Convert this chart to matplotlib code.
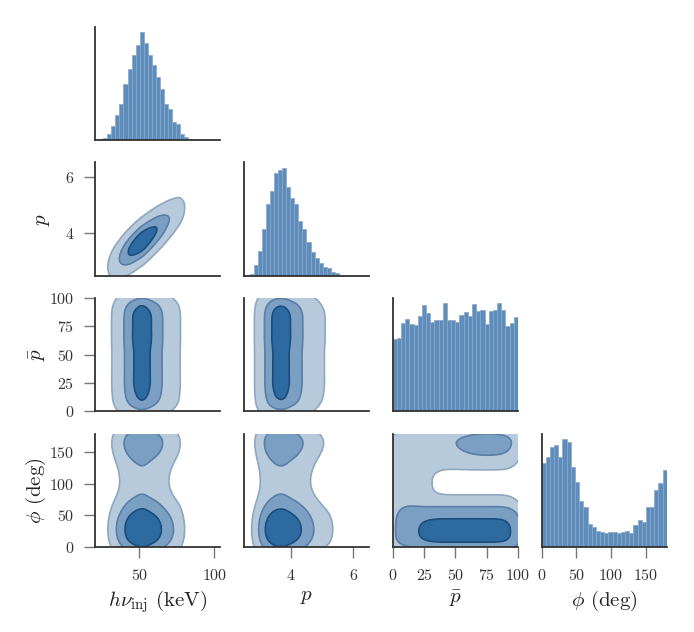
import numpy as np
import matplotlib.pyplot as plt

plt.rcParams['font.family'] = 'serif'
plt.rcParams['font.serif'] = ['cmr10']
plt.rcParams['mathtext.fontset'] = 'cm'
plt.rcParams['axes.formatter.use_mathtext'] = True

# ---- values ----
labels = [r'$h\nu_{\rm inj}$ (keV)', r'$p$', r'$\bar{p}$', r'$\phi$ (deg)']
axis_limits = [(20.3, 104.0), (2.5, 6.5), (0.0, 100.0), (0.0, 180.0)]
axis_ticks = [[50, 100], [4, 6], [0, 25, 50, 75, 100], [0, 50, 100, 150]]

# histogram ranges (30 bins each) and bar heights
hist_ranges = [(20.3, 101.8), (2.56, 6.44), (0.0, 100.0), (0.0, 180.0)]
hnu_counts = [2, 4, 6, 18, 43, 75, 108, 168, 213, 255, 283, 321, 290, 253, 223,
              190, 153, 108, 93, 55, 50, 20, 10, 3, 1, 1, 1, 0, 0, 1]
p_counts = [3, 6, 33, 73, 140, 213, 253, 306, 313, 320, 263, 230, 213, 163, 138,
            101, 70, 53, 38, 28, 25, 13, 8, 3, 2, 1, 1, 0.5, 0.5, 0.3]
pbar_counts = [212, 215, 260, 273, 257, 255, 282, 312, 290, 262, 270, 268, 318, 268, 270,
               262, 285, 293, 280, 315, 295, 299, 258, 295, 300, 318, 300, 252, 260, 277]
phi_counts = [249, 265, 296, 302, 267, 319, 309, 237, 192, 137, 119, 67, 59, 47, 44,
              42, 43, 44, 42, 45, 47, 42, 64, 80, 74, 119, 119, 167, 189, 227]

# p follows hnu: centre of the p ridge for every hnu bin, and scatter around it
p_ridge = [2.45, 2.55, 2.66, 2.78, 2.90, 3.02, 3.13, 3.25, 3.36, 3.48,
           3.60, 3.71, 3.83, 3.95, 4.07, 4.19, 4.31, 4.43, 4.55, 4.67,
           4.79, 4.91, 5.03, 5.15, 5.27, 5.39, 5.51, 5.63, 5.75, 5.87]
p_scatter = 0.32

# pbar-phi joint: rows = phi bins of 15 deg, columns = pbar bins of 10
pbar_phi_table = [
    [15, 19, 28, 30, 30, 30, 30, 30, 30, 28],
    [15, 19, 30, 32, 32, 32, 32, 32, 32, 30],
    [15, 19, 29, 31, 31, 31, 31, 31, 31, 29],
    [14, 16, 18, 19, 19, 19, 19, 19, 19, 18],
    [9, 8, 6, 6, 6, 6, 6, 6, 6, 6],
    [8, 7, 4, 2, 2, 2, 2, 2, 2, 2],
    [8, 7, 4, 1.5, 1.2, 1.2, 1.2, 1.2, 1.2, 1.2],
    [8, 7, 4, 1.5, 1.2, 1.2, 1.2, 1.2, 1.2, 1.2],
    [8, 7, 5, 3, 3, 3, 3, 3, 3, 3],
    [8, 8, 7, 6, 6, 7, 8, 8, 8, 7],
    [8, 8, 7, 7, 8, 11, 15, 17, 16, 11],
    [8, 8, 7, 7, 9, 13, 18, 21, 19, 13],
]

mass_levels = [0.95, 0.68, 0.32]   # probability mass inside each contour
bandwidths = [2.2, 0.13, 7.0, 15.0]
table_bw = [7.0, 10.0]

hist_face = '#5f8dbb'
hist_edge = '#86a7c9'
fill_colors = ['#b7cadc', '#7b9fc3', '#2c6aa0']
line_colors = ['#8fa8bf', '#5a7ea5', '#1d4d7c']
ylabel_pads = [0, 9, 1, 1]


def bin_centers(lo, hi, n):
    e = np.linspace(lo, hi, n + 1)
    return 0.5 * (e[1:] + e[:-1]), e


def gauss(grid, c, bw):
    return np.exp(-0.5 * ((grid[:, None] - np.asarray(c)[None, :]) / bw) ** 2)


counts = [np.array(c, float) for c in (hnu_counts, p_counts, pbar_counts, phi_counts)]
grids, marg = [], []
for k in range(4):
    lo, hi = hist_ranges[k]
    g = np.linspace(lo - 4 * bandwidths[k], hi + 4 * bandwidths[k], 300)
    c, _ = bin_centers(lo, hi, len(counts[k]))
    grids.append(g)
    marg.append(gauss(g, c, bandwidths[k]) @ counts[k])


def joint(i, j):
    # density with variable i on y and variable j on x
    if (i, j) == (1, 0):
        c, _ = bin_centers(*hist_ranges[0], len(hnu_counts))
        kx = gauss(grids[0], c, bandwidths[0])
        s = np.hypot(p_scatter, bandwidths[1])
        ky = gauss(grids[1], p_ridge, s)
        return (ky * counts[0]) @ kx.T
    if (i, j) == (3, 2):
        t = np.array(pbar_phi_table, float)
        cx, _ = bin_centers(0, 100, t.shape[1])
        cy, _ = bin_centers(0, 180, t.shape[0])
        kx = gauss(grids[2], cx, table_bw[0])
        ky = gauss(grids[3], cy, table_bw[1])
        return ky @ t @ kx.T
    return np.outer(marg[i], marg[j])


def thresholds(z, masses):
    v = np.sort(z.ravel())[::-1]
    cum = np.cumsum(v) / v.sum()
    return [v[min(np.searchsorted(cum, m), len(v) - 1)] for m in masses]


fig = plt.figure(figsize=(6.94, 6.32), dpi=100)
axes = fig.subplots(4, 4)
fig.subplots_adjust(left=0.137, right=0.9607, bottom=0.1345, top=0.9573,
                    wspace=0.19, hspace=0.194)

for i in range(4):
    for j in range(4):
        ax = axes[i, j]
        if j > i:
            ax.remove()
            continue
        if i == j:
            lo, hi = hist_ranges[i]
            _, edges = bin_centers(lo, hi, len(counts[i]))
            ax.bar(edges[:-1], counts[i], width=np.diff(edges), align='edge',
                   color=hist_face, edgecolor=hist_edge, linewidth=0.5)
        else:
            z = joint(i, j)
            t = thresholds(z, mass_levels)
            ax.contourf(grids[j], grids[i], z, levels=t + [z.max() * 1.01],
                        colors=fill_colors)
            ax.contour(grids[j], grids[i], z, levels=t, colors=line_colors,
                       linewidths=1.2)
            ax.set_ylim(axis_limits[i])
        ax.set_xlim(axis_limits[j])

        for side in ('top', 'right'):
            ax.spines[side].set_visible(False)
        for side in ('left', 'bottom'):
            ax.spines[side].set_color('#333333')
            ax.spines[side].set_linewidth(1.3)
        ax.tick_params(length=8, width=1, color='#777777', labelsize=11.5,
                       labelcolor='#333333', pad=7)

        if i == 3:
            ax.set_xticks(axis_ticks[j])
            ax.set_xlabel(labels[j], fontsize=15, color='#222222')
        else:
            ax.tick_params(axis='x', bottom=False, labelbottom=False)
        if j == 0 and i > 0:
            ax.set_yticks(axis_ticks[i])
            ax.set_ylabel(labels[i], fontsize=15, color='#222222',
                          labelpad=ylabel_pads[i])
        else:
            ax.tick_params(axis='y', left=False, labelleft=False)

fig.savefig('out.png', dpi=100)
